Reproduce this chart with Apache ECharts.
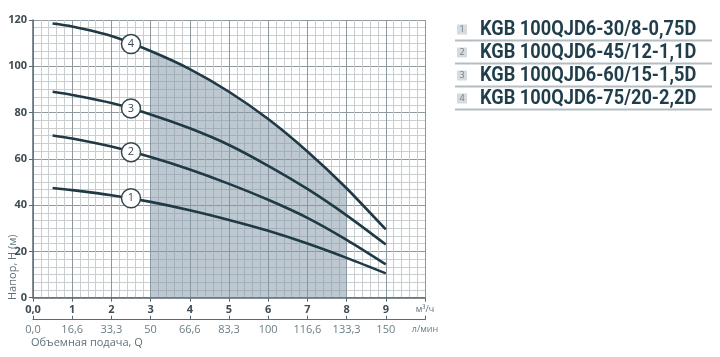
<!DOCTYPE html>
<html><head><meta charset="utf-8">
<script src="https://cdn.jsdelivr.net/npm/echarts@6/dist/echarts.min.js"></script>
<style>html,body{margin:0;padding:0;background:#fff}#c{width:720px;height:357px}</style>
</head><body><div id="c"></div>
<script>
// ---- data ----
const flowQ  = [0.5, 1, 2, 3, 4, 5, 6, 7, 8, 9];
const curve1 = [47.4, 46.5, 44.3, 41.4, 37.8, 33.6, 28.9, 23.4, 17.2, 10.5];
const curve2 = [70.1, 68.8, 65.3, 60.8, 55.4, 49.2, 42.3, 34.5, 25.0, 14.4];
const curve3 = [89.0, 87.6, 84.1, 79.2, 73.2, 66.0, 57.0, 47.0, 35.6, 23.0];
const curve4 = [118.5, 117.2, 113.1, 106.6, 98.8, 89.0, 77.2, 63.2, 47.3, 29.5];
const curveNums = ['1', '2', '3', '4'];
const markerQ = 2.5;
const markerH = [43.0, 62.9, 81.8, 109.6];
const shadeFrom = 3, shadeTo = 8;
const modelNames = ['KGB 100QJD6-30/8-0,75D', 'KGB 100QJD6-45/12-1,1D', 'KGB 100QJD6-60/15-1,5D', 'KGB 100QJD6-75/20-2,2D'];
const qTickLabels = ['0,0', '1', '2', '3', '4', '5', '6', '7', '8', '9', 'м³/ч'];
const lminTickLabels = ['0,0', '16,6', '33,3', '50', '66,6', '83,3', '100', '116,6', '133,3', '150', 'л/мин'];
const yTitle = 'Напор, H (м)';
const xTitle = 'Объемная подача, Q';

const curves = [curve1, curve2, curve3, curve4];
const pairs = arr => flowQ.map((q, i) => [q, arr[i]]);
const shadeData = flowQ.map((q, i) => [q, curve4[i]]).filter(p => p[0] >= shadeFrom && p[0] <= shadeTo);

const lineColor = '#1f3a44';
const chart = echarts.init(document.getElementById('c'));
const series = [];
series.push({
  type: 'line', data: shadeData, smooth: 0.3, symbol: 'none', z: 1,
  lineStyle: { width: 0 }, areaStyle: { color: 'rgba(128,150,166,0.52)', opacity: 1 }, silent: true
});
curves.forEach(c => series.push({
  type: 'line', data: pairs(c), smooth: 0.3, symbol: 'none', z: 3,
  lineStyle: { color: lineColor, width: 2.6 }
}));
series.push({
  type: 'scatter', z: 5, symbolSize: 19,
  data: markerH.map((h, i) => ({ value: [markerQ, h], name: curveNums[i] })),
  itemStyle: { color: '#fff', borderColor: '#33464e', borderWidth: 1.5, opacity: 1 },
  label: { show: true, position: 'inside', formatter: p => p.name, color: '#3a4a52', fontSize: 11, fontFamily: 'Open Sans' }
});

const graphics = [];
graphics.push({ type: 'text', x: 13, y: 300, rotation: Math.PI / 2,
  style: { text: yTitle, fill: '#5f727b', font: '11px "Open Sans"', align: 'left', verticalAlign: 'middle' } });
graphics.push({ type: 'text', x: 31, y: 343,
  style: { text: xTitle, fill: '#5f727b', font: '11px "Open Sans"', align: 'left', verticalAlign: 'middle' } });
modelNames.forEach((n, i) => {
  const cy = 29.5 + i * 23;
  graphics.push({ type: 'rect', shape: { x: 457, y: cy - 5, width: 10, height: 10 }, style: { fill: '#d5dbde' } });
  graphics.push({ type: 'text', x: 462, y: cy, style: { text: curveNums[i], fill: '#6f7f87', font: '9px "Open Sans"', align: 'center', verticalAlign: 'middle' } });
  graphics.push({ type: 'text', x: 480, y: cy + 0.5, scaleX: 0.91, style: { text: n, fill: '#1f3d4a', font: 'bold 20px Roboto', align: 'left', verticalAlign: 'middle' } });
  graphics.push({ type: 'line', shape: { x1: 455, y1: cy + 11, x2: 712, y2: cy + 11 }, style: { stroke: '#b3bdc2', lineWidth: 2 } });
});

chart.setOption({
  animation: false,
  backgroundColor: '#fff',
  grid: { left: 33, top: 20, right: 295, bottom: 59.3 },
  xAxis: [{
    type: 'value', min: 0, max: 10, interval: 1, position: 'bottom',
    axisLine: { show: true, lineStyle: { color: '#5b6a72', width: 1.5 } },
    axisTick: { show: true, length: 4, lineStyle: { color: '#5b6a72' } },
    axisLabel: { margin: 7, fontSize: 11, fontWeight: 'bold', color: '#3e4c53', fontFamily: 'Open Sans',
      formatter: v => { const i = Math.round(v); return i === 10 ? '{u|' + qTickLabels[i] + '}' : qTickLabels[i]; },
      rich: { u: { fontSize: 9, fontWeight: 'normal', color: '#5f727b', fontFamily: 'Open Sans' } } },
    splitLine: { show: true, lineStyle: { color: '#8d999f', width: 1 } },
    minorTick: { show: false, splitNumber: 5 },
    minorSplitLine: { show: true, lineStyle: { color: '#c9ced1', width: 1 } }
  }, {
    type: 'value', min: 0, max: 10, interval: 1, position: 'bottom', offset: 22,
    axisLine: { show: true, lineStyle: { color: '#5b6a72', width: 1.2 } },
    axisTick: { show: true, inside: true, length: 4, lineStyle: { color: '#5b6a72' } },
    axisLabel: { margin: 5, fontSize: 11, color: '#6a7d86', fontFamily: 'Open Sans',
      formatter: v => { const i = Math.round(v); return i === 10 ? '{u|' + lminTickLabels[i] + '}' : lminTickLabels[i]; },
      rich: { u: { fontSize: 9, color: '#6a7d86', fontFamily: 'Open Sans' } } },
    splitLine: { show: false }
  }],
  yAxis: {
    type: 'value', min: 0, max: 120, interval: 20,
    axisLine: { show: true, lineStyle: { color: '#5b6a72', width: 1.5 } },
    axisTick: { show: true, length: 4, lineStyle: { color: '#5b6a72' } },
    axisLabel: { margin: 6, fontSize: 11, fontWeight: 'bold', color: '#3e4c53', fontFamily: 'Open Sans' },
    splitLine: { show: true, lineStyle: { color: '#8d999f', width: 1 } },
    minorTick: { show: false, splitNumber: 6 },
    minorSplitLine: { show: true, lineStyle: { color: '#c9ced1', width: 1 } }
  },
  series: series,
  graphic: graphics
});
</script></body></html>
